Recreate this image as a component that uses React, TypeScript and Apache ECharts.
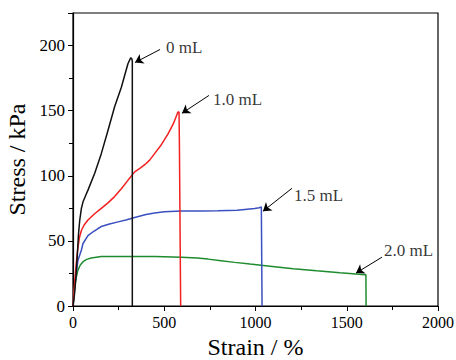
import React, { useEffect, useRef } from "react";
import * as echarts from "echarts";

// Strain (%) / Stress (kPa) curves
const s0mL: [number, number][] = [
  [0, 0], [9, 10], [16, 22], [24, 40], [30, 55], [37, 66], [46, 75], [55, 80], [70, 85], [82, 89],
  [119, 102], [155, 117], [192, 135], [228, 153], [265, 168], [301, 186], [316, 190.5],
  [322, 190], [325, 188], [325, 0],
];
const s1mL: [number, number][] = [
  [0, 0], [6, 12], [13, 25], [20, 36], [27, 45], [36, 53], [46, 58], [60, 62], [82, 66],
  [120, 71], [155, 75], [190, 79], [228, 84], [265, 90], [301, 96.5], [338, 103], [370, 106],
  [393, 108.5], [420, 112], [447, 117], [480, 123], [520, 132], [550, 140], [575, 149],
  [581, 149], [583, 125], [590, 0],
];
const s15mL: [number, number][] = [
  [0, 0], [5, 8], [13, 20], [27, 35], [46, 43], [55, 48], [82, 54], [110, 57], [137, 59.5],
  [155, 61], [200, 63], [247, 64.6], [290, 66], [338, 68], [400, 70.2], [447, 71.4], [502, 72.3],
  [594, 73], [700, 73], [795, 73.2], [900, 73.5], [995, 74.8], [1020, 75.5], [1032, 76],
  [1035, 76], [1036, 0],
];
const s2mL: [number, number][] = [
  [0, 0], [5, 7], [9, 15], [18, 22], [27, 27.6], [40, 31.5], [55, 34], [75, 35.8], [100, 36.8],
  [155, 38], [250, 38], [338, 38], [450, 38], [594, 37.5], [680, 36.8], [740, 36], [800, 35],
  [886, 33.5], [970, 32.2], [1079, 30.6], [1207, 28.6], [1335, 27], [1463, 25.5], [1550, 24.6],
  [1600, 24], [1605, 24], [1606, 0],
];

const seriesNames = ["0 mL", "1.0 mL", "1.5 mL", "2.0 mL"];
const seriesColors = ["#111111", "#f22020", "#3a4fc0", "#1e8c2e"];

// annotation text anchors (data coords)
const labelPoints: [number, number, string][] = [
  [510, 198.5, "0 mL"],
  [767, 158.6, "1.0 mL"],
  [1211, 85, "1.5 mL"],
  [1704, 42.9, "2.0 mL"],
];
// arrows: from -> to (data coords)
const arrows: [[number, number], [number, number]][] = [
  [[477, 197], [340, 187]],
  [[745, 161.7], [597, 148]],
  [[1200, 90.4], [1041, 72.8]],
  [[1693, 37.5], [1551, 25.3]],
];

const xTicks = { min: 0, max: 2000, interval: 500 };
const yTicks = { min: 0, max: 225, interval: 50 };

const FONT = "Liberation Serif";

export default function App() {
  const ref = useRef<HTMLDivElement>(null);
  useEffect(() => {
    if (!ref.current) return;
    const chart = echarts.init(ref.current, undefined, { renderer: "svg" });
    const all = [s0mL, s1mL, s15mL, s2mL];
    chart.setOption({
      animation: false,
      backgroundColor: "#ffffff",
      textStyle: { fontFamily: FONT },
      grid: {
        left: 73,
        right: 18,
        top: 13,
        bottom: 54,
        show: true,
        borderColor: "#000",
        borderWidth: 1.2,
        containLabel: false,
        outerBoundsMode: "none",
      },
      xAxis: {
        type: "value",
        min: xTicks.min,
        max: xTicks.max,
        interval: xTicks.interval,
        name: "Strain / %",
        nameLocation: "middle",
        nameGap: 29,
        nameTextStyle: { fontSize: 24, color: "#000", fontFamily: FONT },
        axisLine: { show: true, onZero: false, lineStyle: { color: "#000", width: 1.2 } },
        axisTick: { show: true, inside: false, length: 5, lineStyle: { color: "#000" } },
        minorTick: { show: true, splitNumber: 2, length: 4, lineStyle: { color: "#000" } },
        axisLabel: {
          fontSize: 16,
          color: "#000",
          margin: 8,
          fontFamily: FONT,
          formatter: (v: number) => String(v),
        },
        splitLine: { show: false },
      },
      yAxis: {
        type: "value",
        min: yTicks.min,
        max: yTicks.max,
        interval: yTicks.interval,
        name: "Stress / kPa",
        nameLocation: "middle",
        nameGap: 40,
        nameTextStyle: { fontSize: 24, color: "#000", fontFamily: FONT },
        axisLine: { show: true, onZero: false, lineStyle: { color: "#000", width: 1.2 } },
        axisTick: { show: true, inside: false, length: 5, lineStyle: { color: "#000" } },
        minorTick: { show: true, splitNumber: 2, length: 4, lineStyle: { color: "#000" } },
        axisLabel: {
          fontSize: 17,
          color: "#000",
          margin: 8,
          fontFamily: FONT,
          formatter: (v: number) => (v > 200 ? "" : String(v)),
        },
        splitLine: { show: false },
      },
      series: [
        ...all.map((d, i) => ({
          name: seriesNames[i],
          type: "line",
          data: d,
          showSymbol: false,
          symbol: "none",
          lineStyle: { color: seriesColors[i], width: 1.5 },
          z: 3 - i + 2,
        })),
        {
          name: "labels",
          type: "scatter",
          symbolSize: 0,
          data: labelPoints.map((p) => [p[0], p[1], p[2]]),
          label: {
            show: true,
            position: "right",
            distance: 0,
            formatter: (p: any) => p.value[2],
            fontSize: 17,
            color: "#000",
            fontFamily: FONT,
          },
          markLine: {
            silent: true,
            symbol: ["none", "arrow"],
            symbolSize: 8,
            label: { show: false },
            lineStyle: { color: "#000", width: 1, type: "solid" },
            data: arrows.map((a) => [{ coord: a[0] }, { coord: a[1] }]),
          },
          z: 10,
        },
      ],
    });
    return () => chart.dispose();
  }, []);
  return (
    <div
      ref={ref}
      style={{ position: "absolute", left: 0, top: 0, width: 456, height: 360 }}
    />
  );
}
